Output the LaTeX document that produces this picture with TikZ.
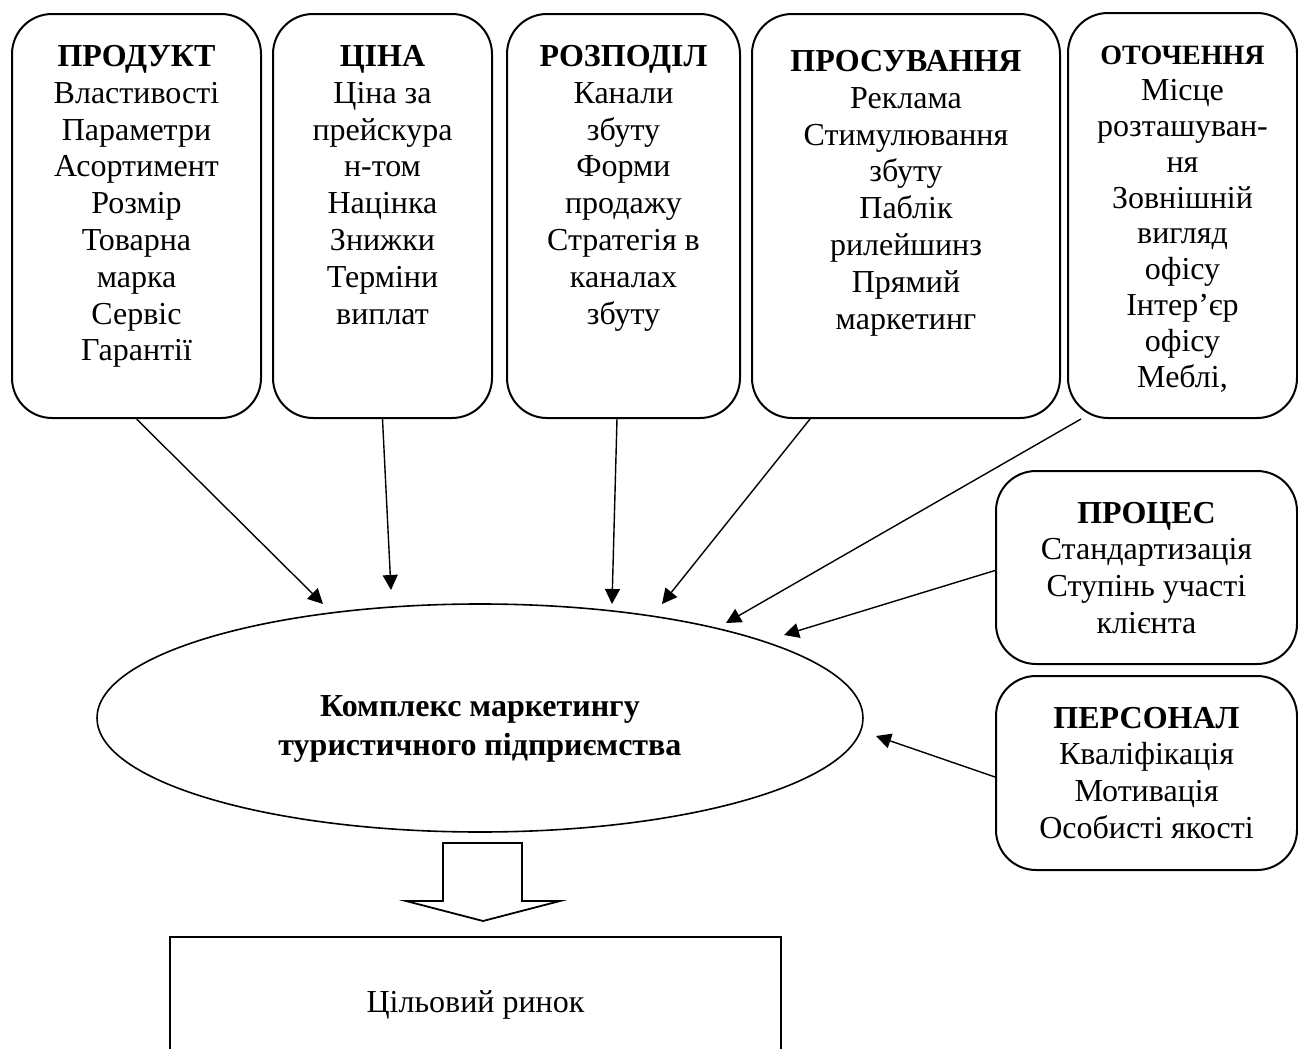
\documentclass[tikz,border=0pt]{standalone}
\usepackage{fontspec}
\setmainfont{Liberation Serif}
\usetikzlibrary{arrows.meta,calc,shapes.geometric}

\begin{document}
\begin{tikzpicture}[x=0.5pt,y=-0.5pt,
    mixbox/.style={draw,line width=1pt,rounded corners=20pt,inner sep=0pt},
    mixtext/.style={anchor=north,align=center,inner sep=0pt,font=\fontsize{16}{18.4}\selectfont},
    mixarrow/.style={-{Triangle[length=7.5pt,width=7.5pt]},line width=0.7pt}]
    \clip (0,0) rectangle (1298,1049);
    \node[mixbox,minimum width=124.5pt,minimum height=202pt] (prod) at (136.5,216) {};
    \node[mixtext] at ([yshift=-16pt]prod.north) {\textbf{ПРОДУКТ}\\Властивості\\Параметри\\Асортимент\\Розмір\\Товарна\\марка\\Сервіс\\Гарантії};
    \node[mixbox,minimum width=109.5pt,minimum height=202pt] (cina) at (382.5,216) {};
    \node[mixtext] at ([yshift=-16pt]cina.north) {\textbf{ЦІНА}\\Ціна за\\прейскура\\н-том\\Націнка\\Знижки\\Терміни\\виплат};
    \node[mixbox,minimum width=116.5pt,minimum height=202pt] (rozp) at (623.5,216) {};
    \node[mixtext] at ([yshift=-16pt]rozp.north) {\textbf{РОЗПОДІЛ}\\Канали\\збуту\\Форми\\продажу\\Стратегія в\\каналах\\збуту};
    \node[mixbox,minimum width=154pt,minimum height=202pt] (prosuv) at (906,216) {};
    \node[mixtext] at ([yshift=-18.5pt]prosuv.north) {\textbf{ПРОСУВАННЯ}\\Реклама\\Стимулювання\\збуту\\Паблік\\рилейшинз\\Прямий\\маркетинг};
    \node[mixbox,minimum width=114.5pt,minimum height=202.5pt] (otoch) at (1182.5,215.5) {};
    \node[mixtext,font=\fontsize{16}{17.9}\selectfont] at ([yshift=-17pt]otoch.north) {{\fontsize{14}{17.9}\selectfont\textbf{ОТОЧЕННЯ}}\\Місце\\розташуван-\\ня\\Зовнішній\\вигляд\\офісу\\Інтер’єр\\офісу\\Меблі,};
    \node[mixbox,minimum width=150.5pt,minimum height=96.5pt] (proces) at (1146.5,567.5) {};
    \node[mixtext] at ([yshift=-15.75pt]proces.north) {\textbf{ПРОЦЕС}\\Стандартизація\\Ступінь участі\\клієнта};
    \node[mixbox,minimum width=150.5pt,minimum height=97pt] (person) at (1146.5,773) {};
    \node[mixtext] at ([yshift=-15.75pt]person.north) {\textbf{ПЕРСОНАЛ}\\Кваліфікація\\Мотивація\\Особисті якості};
    \node[draw,ellipse,line width=0.8pt,minimum width=383pt,minimum height=114pt,inner sep=0pt] (kompl) at (480,718) {};
    \node[align=center,font=\bfseries\fontsize{16}{19.5}\selectfont] at ([yshift=-5.5pt]kompl.center) {Комплекс маркетингу\\туристичного підприємства};
    \node[draw,line width=1pt,minimum width=305.5pt,minimum height=68pt,font=\fontsize{16}{18.4}\selectfont] (rynok) at (475.5,1005) {Цільовий ринок};
    \coordinate (t1) at (323,604);
    \coordinate (t2) at (391,590);
    \coordinate (t3) at (612,604);
    \coordinate (t4) at (662,604);
    \coordinate (t5) at (726,623);
    \coordinate (t6) at (784,635);
    \coordinate (t7) at (876,736);
    \draw[mixarrow] (prod.south) -- (t1);
    \draw[mixarrow] (cina.south) -- (t2);
    \draw[mixarrow] ([xshift=-3.25pt]rozp.south) -- (t3);
    \draw[mixarrow] ([xshift=29.5pt]prosuv.south west) -- (t4);
    \draw[mixarrow] ([xshift=7pt]otoch.south west) -- (t5);
    \draw[mixarrow] ([yshift=-1.5pt]proces.west) -- (t6);
    \draw[mixarrow] ([yshift=-2pt]person.west) -- (t7);
    \draw[line width=0.9pt,fill=white] (443,843) -- (522,843) -- (522,901) -- (560,901) -- (483,921) -- (406,901) -- (443,901) -- cycle;
\end{tikzpicture}
\end{document}
